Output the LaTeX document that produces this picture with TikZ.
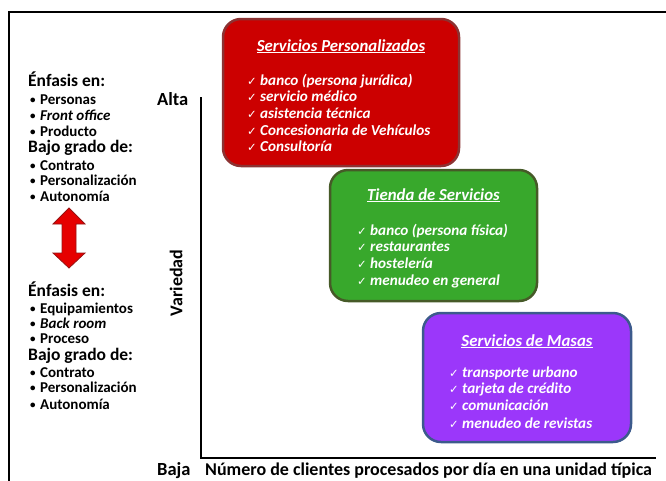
\documentclass[tikz,border=0pt]{standalone}
\usepackage{fontspec}
\setmainfont{Carlito}
\newfontfamily\chkfont{DejaVu Sans}
\definecolor{boxred}{RGB}{204,0,0}
\definecolor{edgered}{RGB}{140,50,50}
\definecolor{boxgreen}{RGB}{56,168,44}
\definecolor{edgegreen}{RGB}{70,90,40}
\definecolor{boxpurple}{RGB}{155,55,250}
\definecolor{edgepurple}{RGB}{60,90,140}
\definecolor{arrowred}{RGB}{230,0,0}
\definecolor{arrowedge}{RGB}{150,20,20}
\newcommand{\chk}{\makebox[13pt][l]{\chkfont\fontsize{11.5}{12}\selectfont ✓}}
\newcommand{\bul}{\makebox[10pt][l]{\raisebox{0.5pt}{\fontsize{11}{11}\selectfont •}}}
\begin{document}
\begin{tikzpicture}[x=1pt,y=-1pt,
  svcbox/.style={draw, line width=2.5pt, rounded corners=18pt, inner sep=0pt},
  boxtitle/.style={text=white, font=\bfseries\itshape\fontsize{16.8}{18}\selectfont, anchor=base, inner sep=0pt},
  boxitem/.style={text=white, font=\bfseries\itshape\fontsize{15.2}{17}\selectfont, anchor=base west, inner sep=0pt},
  head/.style={font=\bfseries\fontsize{17.5}{19}\selectfont, anchor=base west, inner sep=0pt},
  bitem/.style={font=\bfseries\fontsize{15}{16}\selectfont, anchor=base west, inner sep=0pt},
  axlabel/.style={font=\bfseries\fontsize{18.5}{20}\selectfont, inner sep=0pt}]
\useasboundingbox (0,0) rectangle (666,480);
% outer frame
\draw[line width=2.5pt] (9,520) -- (9,12) -- (700,12);
% axes
\coordinate (top) at (201,97);
\coordinate (orig) at (201,458);
\coordinate (xend) at (656,458);
\draw[line width=1.8pt] (top) -- (orig) -- (xend);
\node[axlabel, anchor=base west] (alta) at (157,105) {Alta};
\node[axlabel, anchor=base west] (baja) at (157,475) {Baja};
\node[axlabel, rotate=90, font=\bfseries\fontsize{18}{20}\selectfont] (variedad) at (176,283) {Variedad};
\node[axlabel, anchor=base west, font=\bfseries\fontsize{18}{20}\selectfont] (xlab) at (205,475) {Número de clientes procesados por día en una unidad típica};
% left text, upper group
\node[head] (e1) at (28,86) {Énfasis en:};
\node[bitem] (e1a) at (30,104) {\bul Personas};
\node[bitem] (e1b) at (30,120) {\bul \textit{Front office}};
\node[bitem] (e1c) at (30,136) {\bul Producto};
\node[head] (b1) at (28,152) {Bajo grado de:};
\node[bitem] (b1a) at (30,170) {\bul Contrato};
\node[bitem] (b1b) at (30,185) {\bul Personalización};
\node[bitem] (b1c) at (30,201) {\bul Autonomía};
% double arrow
\draw[fill=arrowred, draw=arrowedge, line width=0.8pt]
  (69,208) -- (85,224) -- (76,224) -- (76,253) -- (85,253) -- (69,268)
  -- (53,253) -- (62,253) -- (62,224) -- (53,224) -- cycle;
% left text, lower group
\node[head] (e2) at (28,296) {Énfasis en:};
\node[bitem] (e2a) at (30,313) {\bul Equipamientos};
\node[bitem] (e2b) at (30,328) {\bul \textit{Back room}};
\node[bitem] (e2c) at (30,343) {\bul Proceso};
\node[head] (b2) at (28,360) {Bajo grado de:};
\node[bitem] (b2a) at (30,377) {\bul Contrato};
\node[bitem] (b2b) at (30,392) {\bul Personalización};
\node[bitem] (b2c) at (30,409) {\bul Autonomía};
% red box
\node[svcbox, fill=boxred, draw=edgered, minimum width=236pt, minimum height=147pt] (red) at (341,92.5) {};
\node[boxtitle] (redt) at (341,51) {\underline{Servicios Personalizados}};
\node[boxitem] (r1) at (247,85) {\chk banco (persona jurídica)};
\node[boxitem] (r2) at (247,101.5) {\chk servicio médico};
\node[boxitem] (r3) at (247,118) {\chk asistencia técnica};
\node[boxitem] (r4) at (247,135) {\chk Concesionaria de Vehículos};
\node[boxitem] (r5) at (247,151.5) {\chk Consultoría};
% green box
\node[svcbox, fill=boxgreen, draw=edgegreen, minimum width=207pt, minimum height=131pt] (green) at (433.5,235.5) {};
\node[boxtitle] (greent) at (433.5,200) {\underline{Tienda de Servicios}};
\node[boxitem] (g1) at (357,235) {\chk banco (persona física)};
\node[boxitem] (g2) at (357,251.5) {\chk restaurantes};
\node[boxitem] (g3) at (357,268) {\chk hostelería};
\node[boxitem] (g4) at (357,285) {\chk menudeo en general};
% purple box
\node[svcbox, fill=boxpurple, draw=edgepurple, minimum width=208pt, minimum height=129pt] (purple) at (527,377.5) {};
\node[boxtitle] (purplet) at (527,346) {\underline{Servicios de Masas}};
\node[boxitem] (p1) at (449,377) {\chk transporte urbano};
\node[boxitem] (p2) at (449,393.5) {\chk tarjeta de crédito};
\node[boxitem] (p3) at (449,410) {\chk comunicación};
\node[boxitem] (p4) at (449,428) {\chk menudeo de revistas};
\end{tikzpicture}
\end{document}
